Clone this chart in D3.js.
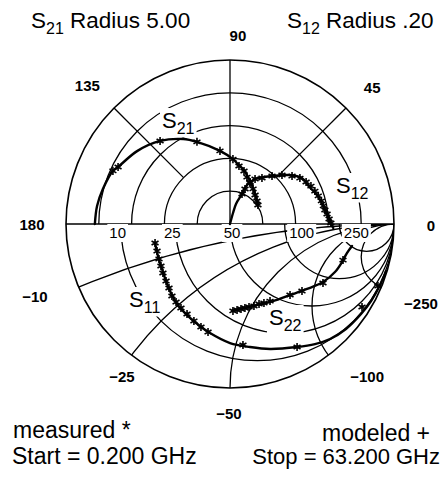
<!DOCTYPE html>
<html>
<head>
<meta charset="utf-8">
<script src="https://cdn.jsdelivr.net/npm/d3@7"></script>
<style>
  body { margin: 0; background: #fff; }
  svg { display: block; font-family: "Liberation Sans", Arial, Helvetica, sans-serif; }
</style>
</head>
<body>
<svg width="441" height="479"></svg>
<script>
// upper half: polar (S21 full scale 5.00, S12 full scale .20), [magnitude, angle deg]
const s21Rings = [1, 2, 3, 4, 5];
const spokes = [45, 90, 135];

const s21Model = [[4.12,180],[4.09,172.3],[4.02,164.6],[3.92,155.6],[3.83,153],[3.60,141.9],[3.31,130.1],
  [2.96,118.9],[2.70,111.9],[2.25,97.8],[1.98,87.4],[1.84,82.4],[1.72,76.7],[1.58,70.9],[1.45,65.1],
  [1.30,57.4],[1.19,50.2],[1.08,40.4],[1.03,34.2]];
const s21Meas = [[3.92,155.6],[3.83,153],[3.31,130.1],[2.70,111.9],[2.25,97.8],[1.98,87.4],[1.79,81.2],
  [1.67,75.2],[1.52,70.1],[1.39,64],[1.28,56.7],[1.17,49.2],[1.08,40.4],[1.03,34.2]];

const s12Model = [[0,80],[0.0139,74.7],[0.0255,73.3],[0.0394,68.2],[0.0519,66.4],[0.0628,60.9],[0.0707,54.1],
  [0.0778,48.8],[0.0935,39.7],[0.104,32.6],[0.107,24.8],[0.112,18.4],[0.115,12.3],[0.119,5.9],[0.123,0.6],[0.126,-2.2]];
const s12Meas = [[0.0394,68.2],[0.0465,66.8],[0.0567,64.5],[0.0628,60.9],[0.0683,55.2],[0.0778,48.8],[0.0871,43.3],
  [0.0956,37.7],[0.102,33.3],[0.106,28.9],[0.109,25.1],[0.111,21.2],[0.113,17.7],[0.115,14.2],[0.116,11],
  [0.117,8.4],[0.119,5.9],[0.121,2.9],[0.123,0.6]];

// lower half: Smith chart, Z0 = 50 ohm, [re, im] of reflection coefficient
const z0 = 50;
const resistances = [10, 25, 50, 100, 250];
const reactances = [-10, -25, -50, -100, -250];

const s11Model = [[0.951,-0.287],[0.915,-0.372],[0.860,-0.470],[0.799,-0.549],[0.707,-0.640],[0.610,-0.701],
  [0.518,-0.732],[0.409,-0.750],[0.244,-0.762],[0.122,-0.750],[0,-0.726],[-0.122,-0.665],[-0.207,-0.604],
  [-0.280,-0.537],[-0.323,-0.488],[-0.360,-0.421],[-0.390,-0.348],[-0.415,-0.274],[-0.439,-0.195],[-0.457,-0.116]];
const s11Meas = [[-0.457,-0.116],[-0.445,-0.165],[-0.433,-0.213],[-0.421,-0.256],[-0.409,-0.299],[-0.390,-0.348],
  [-0.372,-0.390],[-0.354,-0.439],[-0.329,-0.476],[-0.299,-0.512],[-0.262,-0.549],[-0.220,-0.591],[-0.177,-0.628],
  [-0.134,-0.659],[0.079,-0.738],[0.409,-0.750],[0.805,-0.506],[0.902,-0.378]];

const s22Model = [[0.744,-0.134],[0.713,-0.177],[0.683,-0.232],[0.640,-0.293],[0.567,-0.354],[0.470,-0.396],
  [0.366,-0.433],[0.262,-0.470],[0.140,-0.500],[0.061,-0.518],[0.012,-0.530]];
const s22Meas = [[0.018,-0.530],[0.043,-0.524],[0.067,-0.518],[0.091,-0.512],[0.116,-0.506],[0.146,-0.500],
  [0.177,-0.488],[0.207,-0.482],[0.244,-0.470],[0.366,-0.433],[0.439,-0.409],[0.567,-0.360],[0.689,-0.220]];

// tick labels round the rim: [text, angle deg, distance from centre px]
const rimLabels = [["0",-0.3,201],["45",43.8,197],["90",87.6,189],["135",135.8,199],["180",180,198],
  ["\u221210",-159.7,208],["\u221225",-125.3,187],["\u221250",-90.3,190],["\u2212100",-48,205],["\u2212250",-22.7,207]];
const resLabelShift = [-3, -3, 2, 17, 17];

const cx = 230, cy = 224, R = 164;
const svg = d3.select("svg");

const r21 = d3.scaleLinear().domain([0, 5]).range([0, R]);
const r12 = d3.scaleLinear().domain([0, 0.2]).range([0, R]);
const gx = d3.scaleLinear().domain([-1, 1]).range([cx - R, cx + R]);
const gy = d3.scaleLinear().domain([-1, 1]).range([cy + R, cy - R]);

const rad = a => a * Math.PI / 180;
const polar = scale => ([m, a]) => [cx + scale(m) * Math.cos(rad(a)), cy - scale(m) * Math.sin(rad(a))];
const smith = ([re, im]) => [gx(re), gy(im)];

const defs = svg.append("defs");
defs.append("clipPath").attr("id", "upper")
  .append("rect").attr("x", 0).attr("y", 0).attr("width", 441).attr("height", cy);
defs.append("clipPath").attr("id", "lower")
  .append("path").attr("d", `M${cx - R},${cy} A${R},${R} 0 0 0 ${cx + R},${cy} Z`);

// ---- grid
const grid = svg.append("g").attr("fill", "none").attr("stroke", "#000").attr("stroke-width", 1.3);

grid.append("g").attr("clip-path", "url(#upper)")
  .selectAll("circle").data(s21Rings.slice(0, -1)).join("circle")
  .attr("cx", cx).attr("cy", cy).attr("r", d => r21(d));

grid.selectAll("line.spoke").data(spokes).join("line").attr("class", "spoke")
  .attr("x1", d => polar(r21)([d === 90 ? 0 : 2, d])[0])
  .attr("y1", d => polar(r21)([d === 90 ? 0 : 2, d])[1])
  .attr("x2", d => polar(r21)([5, d])[0])
  .attr("y2", d => polar(r21)([5, d])[1]);

const low = grid.append("g").attr("clip-path", "url(#lower)");
low.selectAll("circle.res").data(resistances).join("circle").attr("class", "res")
  .attr("cx", d => { const r = d / z0; return gx(r / (1 + r)); })
  .attr("cy", cy)
  .attr("r", d => gx(1 / (1 + d / z0)) - gx(0));
low.selectAll("circle.react").data(reactances).join("circle").attr("class", "react")
  .attr("cx", gx(1))
  .attr("cy", d => gy(z0 / d))
  .attr("r", d => gx(Math.abs(z0 / d)) - gx(0));

grid.append("circle").attr("cx", cx).attr("cy", cy).attr("r", R).attr("stroke-width", 1.6);
grid.append("line").attr("x1", gx(-1)).attr("x2", gx(1)).attr("y1", cy).attr("y2", cy).attr("stroke-width", 1.5);

// ---- labels
const labels = svg.append("g").attr("fill", "#000");

function boxIt(textSel, pad) {
  const b = textSel.node().getBBox();
  labels.insert("rect", () => textSel.node())
    .attr("x", b.x - pad).attr("y", b.y - pad + 2)
    .attr("width", b.width + 2 * pad).attr("height", b.height + 2 * pad - 3)
    .attr("fill", "#fff");
}

function sName(x, y, sub, size, subSize) {
  const t = labels.append("text").attr("x", x).attr("y", y).attr("font-size", size);
  t.append("tspan").text("S");
  t.append("tspan").attr("font-size", subSize).attr("dy", size * 0.25).text(sub);
  return t;
}

rimLabels.forEach(([txt, a, d]) => {
  labels.append("text")
    .attr("x", cx + d * Math.cos(rad(a)))
    .attr("y", cy - d * Math.sin(rad(a)))
    .attr("text-anchor", "middle").attr("dominant-baseline", "central")
    .attr("font-size", 15).attr("font-weight", "bold")
    .text(txt);
});

resistances.forEach((d, i) => {
  const r = d / z0;
  const t = labels.append("text")
    .attr("x", gx((r - 1) / (r + 1)) + resLabelShift[i]).attr("y", cy + 14)
    .attr("text-anchor", "middle").attr("font-size", 15)
    .text(d);
  boxIt(t, 2);
});

boxIt(sName(162, 128, "21", 22, 16), 2);
boxIt(sName(336, 193, "12", 22, 16), 2);
boxIt(sName(129, 307, "11", 22, 16), 2);
boxIt(sName(269, 325, "22", 22, 16), 2);

const t1 = sName(31, 28, "21", 22.5, 16);
t1.append("tspan").attr("dy", -22.5 * 0.25).text(" Radius 5.00");
const t2 = sName(287, 28, "12", 22.5, 16);
t2.append("tspan").attr("dy", -22.5 * 0.25).text(" Radius .20");

labels.append("text").attr("x", 13).attr("y", 438).attr("font-size", 23).text("measured  *");
labels.append("text").attr("x", 322).attr("y", 441).attr("font-size", 23).text("modeled +");
labels.append("text").attr("x", 12).attr("y", 464).attr("font-size", 23).text("Start = 0.200 GHz");
labels.append("text").attr("x", 440).attr("y", 464).attr("font-size", 22).attr("text-anchor", "end")
  .text("Stop = 63.200 GHz");

// ---- traces (modeled) and markers (measured)
const line = d3.line().curve(d3.curveCatmullRom.alpha(0.5));
const traces = svg.append("g").attr("fill", "none").attr("stroke", "#000")
  .attr("stroke-width", 2.4).attr("stroke-linejoin", "round").attr("stroke-linecap", "round");

traces.append("path").attr("d", line(s21Model.map(polar(r21))));
traces.append("path").attr("d", line(s12Model.map(polar(r12))));
traces.append("path").attr("d", line(s11Model.map(smith)));
traces.append("path").attr("d", line(s22Model.map(smith)));

const measured = [].concat(
  s21Meas.map(polar(r21)),
  s12Meas.map(polar(r12)),
  s11Meas.map(smith),
  s22Meas.map(smith)
);

const star = d3.symbol(d3.symbolAsterisk, 45);
svg.append("g").attr("fill", "none").attr("stroke", "#000").attr("stroke-width", 1.6)
  .selectAll("path").data(measured).join("path")
  .attr("transform", d => `translate(${d[0]},${d[1]})`)
  .attr("d", star);
</script>
</body>
</html>
